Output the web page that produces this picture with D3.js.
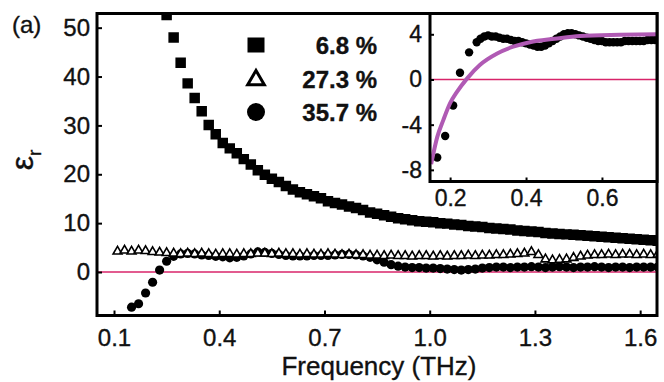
<!DOCTYPE html>
<html>
<head>
<meta charset="utf-8">
<script src="https://cdn.jsdelivr.net/npm/d3@7"></script>
<style>
  body { margin: 0; background: #fff; }
  svg text { font-family: "Liberation Sans", Arial, sans-serif; fill: #111; stroke: #111; stroke-width: 0.35px; }
</style>
</head>
<body>
<svg id="chart" width="664" height="382"></svg>
<script>
// main panel (THz / eps_r)
const freq = [0.11,0.13,0.15,0.17,0.19,0.21,0.23,0.25,0.27,0.29,0.31,0.33,0.35,0.37,0.39,0.41,0.43,0.45,0.47,0.49,
  0.51,0.53,0.55,0.57,0.59,0.61,0.63,0.65,0.67,0.69,0.71,0.73,0.75,0.77,0.79,0.81,0.83,0.85,0.87,0.89,
  0.91,0.93,0.95,0.97,0.99,1.01,1.03,1.05,1.07,1.09,1.11,1.13,1.15,1.17,1.19,1.21,1.23,1.25,1.27,1.29,
  1.31,1.33,1.35,1.37,1.39,1.41,1.43,1.45,1.47,1.49,1.51,1.53,1.55,1.57,1.59,1.61,1.63,1.65];
const eps68 = [null,null,null,null,null,null,null,
  52.6,48.0,42.8,38.6,35.6,32.9,30.1,28.2,26.4,25.3,24.3,23.1,22.0,20.8,19.9,19.1,18.4,17.6,16.9,16.3,
  15.9,15.5,15.1,14.5,14.1,13.8,13.4,13.1,12.7,12.2,11.9,11.6,11.3,11.0,10.8,10.6,10.4,10.3,10.2,10.0,
  9.9,9.7,9.6,9.4,9.3,9.2,9.0,8.9,8.8,8.7,8.5,8.4,8.3,8.2,8.0,7.9,7.8,7.7,7.6,7.5,
  7.4,7.3,7.2,7.1,7.0,6.9,6.8,6.7,6.6,6.5,6.4];
const eps273 = [4.2,4.4,4.2,4.4,4.3,4.1,4.0,3.9,
  3.8,3.7,3.8,3.7,3.8,3.7,3.6,3.7,3.7,3.6,3.7,
  3.7,3.8,3.8,3.7,3.8,3.7,3.7,3.6,3.7,3.6,3.6,3.7,3.6,3.5,3.6,3.5,3.5,3.4,
  3.4,3.3,3.4,3.3,3.3,3.2,3.3,3.3,3.2,3.3,3.2,3.3,3.3,3.4,3.3,3.4,3.4,3.5,3.5,3.6,3.7,3.8,
  4.1,3.5,2.6,2.4,2.5,2.6,2.9,3.2,3.4,3.5,3.5,3.6,3.5,3.6,3.6,3.5,3.6,3.5,3.6];
const eps357 = [null,null,
  -7.2,-6.5,-4.3,-2.1,0.4,2.2,
  3.2,3.7,3.8,3.7,3.5,3.4,3.2,3.1,2.9,3.0,3.3,3.7,
  4.1,4.0,3.8,3.6,3.4,3.3,3.3,3.3,3.4,3.4,3.4,3.5,3.6,3.6,3.5,3.3,3.0,
  2.5,2.0,1.5,1.2,1.0,0.9,0.9,0.8,0.8,0.7,0.6,0.5,0.4,0.5,0.6,0.8,0.9,1.0,1.0,0.9,1.0,
  1.0,1.1,1.0,0.9,1.0,1.1,1.0,0.9,1.0,1.0,1.1,1.0,0.9,1.0,1.0,0.9,1.0,1.0,1.0,1.0];
const xTicks = [0.1,0.4,0.7,1.0,1.3,1.6];
const yTicks = [0,10,20,30,40,50];
const legendLabels = ["6.8 %","27.3 %","35.7 %"];

// inset: 35.7 % sample and its fit
const insetFreq = [0.166,0.187,0.208,0.226,0.25,
  0.27,0.28,0.29,0.30,0.31,0.32,0.33,0.34,0.35,0.36,0.37,0.38,0.39,0.40,0.41,0.42,0.43,0.44,0.45,0.46,
  0.47,0.48,0.49,0.50,0.51,0.52,0.53,0.54,0.55,0.56,0.57,0.58,0.59,0.60,0.61,0.62,0.63,0.64,0.65,0.66,
  0.67,0.68,0.69,0.70,0.71,0.72,0.73,0.74];
const insetEps = [-6.9,-5.0,-2.3,0.6,2.4,
  3.3,3.6,3.8,3.9,3.8,3.8,3.7,3.6,3.6,3.5,3.4,3.4,3.3,3.2,3.1,3.0,2.9,2.9,3.0,3.2,
  3.4,3.6,3.8,4.0,4.1,4.1,4.0,3.9,3.8,3.7,3.6,3.5,3.4,3.4,3.3,3.3,3.3,3.3,3.3,3.4,
  3.4,3.4,3.4,3.4,3.4,3.5,3.5,3.5];
const fitFreq = [0.15,0.166,0.182,0.2,0.218,0.245,0.279,0.324,0.366,0.41,0.476,0.542,0.647,0.745];
const fitEps = [-7.5,-5.1,-3.6,-2.1,-1.1,0.1,1.3,2.3,2.9,3.3,3.6,3.85,3.95,4.0];
const insetXTicks = [0.2,0.4,0.6];
const insetYTicks = [-8,-4,0,4];

const svg = d3.select("#chart");
const L = 97, R = 657, T = 13.5, B = 315.5;
const x = d3.scaleLinear().domain([0.0515, 1.648]).range([L, R]);
const y = d3.scaleLinear().domain([-8.9, 52.9]).range([B, T]);

svg.append("defs").append("clipPath").attr("id", "clipMain")
  .append("rect").attr("x", L).attr("y", T).attr("width", R - L).attr("height", B - T);

// zero line
svg.append("line").attr("x1", L).attr("x2", R).attr("y1", y(0)).attr("y2", y(0))
  .attr("stroke", "#d8246a").attr("stroke-width", 1.5);

const plot = svg.append("g").attr("clip-path", "url(#clipMain)");

plot.append("g").selectAll("circle")
  .data(d3.zip(freq, eps357).filter(d => d[1] != null))
  .join("circle")
  .attr("cx", d => x(d[0])).attr("cy", d => y(d[1])).attr("r", 4.6).attr("fill", "#000");

const tri = d3.symbol().type(d3.symbolTriangle).size(34);
plot.append("g").selectAll("path")
  .data(d3.zip(freq, eps273))
  .join("path")
  .attr("d", tri)
  .attr("transform", d => `translate(${x(d[0])},${y(d[1])})`)
  .attr("fill", "#fff").attr("stroke", "#000").attr("stroke-width", 1.6);

const sq = d3.symbol().type(d3.symbolSquare).size(110);
plot.append("g").selectAll("path")
  .data(d3.zip(freq, eps68).filter(d => d[1] != null))
  .join("path")
  .attr("d", sq)
  .attr("transform", d => `translate(${x(d[0])},${y(d[1])})`)
  .attr("fill", "#000");

// main axes
const xAxis = svg.append("g").attr("transform", `translate(0,${B})`)
  .call(d3.axisBottom(x).tickValues(xTicks).tickFormat(d3.format(".1f"))
    .tickSizeInner(-5).tickSizeOuter(0).tickPadding(13));
const yAxis = svg.append("g").attr("transform", `translate(${L},0)`)
  .call(d3.axisLeft(y).tickValues(yTicks).tickFormat(d => String(d))
    .tickSizeInner(-5).tickSizeOuter(0).tickPadding(7));
[xAxis, yAxis].forEach(a => {
  a.select(".domain").remove();
  a.selectAll(".tick line").attr("stroke", "#000").attr("stroke-width", 2);
  a.selectAll(".tick text").attr("font-size", 24).attr("fill", "#111")
    .style("font-family", "'Liberation Sans', Arial, sans-serif");
});

svg.append("rect").attr("x", L).attr("y", T).attr("width", R - L).attr("height", B - T)
  .attr("fill", "none").attr("stroke", "#000").attr("stroke-width", 3);

// legend
const lg = svg.append("g");
const rowY = [45, 79, 112];
lg.append("rect").attr("x", 247.5).attr("y", rowY[0] - 7.5).attr("width", 17).attr("height", 15).attr("fill", "#000");
lg.append("path").attr("d", d3.symbol().type(d3.symbolTriangle).size(120))
  .attr("transform", `translate(256,${rowY[1] + 1})`)
  .attr("fill", "#fff").attr("stroke", "#000").attr("stroke-width", 3);
lg.append("circle").attr("cx", 256).attr("cy", rowY[2]).attr("r", 9).attr("fill", "#000");
lg.selectAll("text").data(legendLabels).join("text")
  .attr("x", 377).attr("y", (d, i) => rowY[i] + 9)
  .attr("text-anchor", "end").attr("font-size", 24).attr("font-weight", "bold")
  .text(d => d);

// labels
svg.append("text").attr("x", 379).attr("y", 375).attr("text-anchor", "middle")
  .attr("font-size", 26).text("Frequency (THz)");
const yl = svg.append("text").attr("transform", "translate(33,160) rotate(-90)")
  .attr("text-anchor", "middle").attr("font-size", 32);
yl.append("tspan").text("ε");
yl.append("tspan").attr("font-size", 19).attr("dy", 8).text("r");
svg.append("text").attr("x", 12).attr("y", 33).attr("font-size", 24).attr("fill", "#333")
  .attr("stroke", "#333").text("(a)");

// inset
const iL = 430, iR = 657, iT = 13.5, iB = 181.5;
const ix = d3.scaleLinear().domain([0.147, 0.745]).range([iL, iR]);
const iy = d3.scaleLinear().domain([-9.03, 5.84]).range([iB, iT]);
const inset = svg.append("g");
inset.append("rect").attr("x", iL).attr("y", iT).attr("width", iR - iL).attr("height", iB - iT).attr("fill", "#fff");
inset.append("defs").append("clipPath").attr("id", "clipInset")
  .append("rect").attr("x", iL).attr("y", iT).attr("width", iR - iL).attr("height", iB - iT);
inset.append("line").attr("x1", iL).attr("x2", iR).attr("y1", iy(0)).attr("y2", iy(0))
  .attr("stroke", "#d8246a").attr("stroke-width", 1.5);
const ip = inset.append("g").attr("clip-path", "url(#clipInset)");
ip.selectAll("circle").data(d3.zip(insetFreq, insetEps)).join("circle")
  .attr("cx", d => ix(d[0])).attr("cy", d => iy(d[1])).attr("r", 4.2).attr("fill", "#000");
ip.append("path").datum(d3.zip(fitFreq, fitEps))
  .attr("d", d3.line().x(d => ix(d[0])).y(d => iy(d[1])).curve(d3.curveMonotoneX))
  .attr("fill", "none").attr("stroke", "#b05ab4").attr("stroke-width", 4);

const ixAxis = inset.append("g").attr("transform", `translate(0,${iB})`)
  .call(d3.axisBottom(ix).tickValues(insetXTicks).tickFormat(d3.format(".1f"))
    .tickSizeInner(-4).tickSizeOuter(0).tickPadding(8));
const iyAxis = inset.append("g").attr("transform", `translate(${iL},0)`)
  .call(d3.axisLeft(iy).tickValues(insetYTicks).tickFormat(d => String(d))
    .tickSizeInner(-4).tickSizeOuter(0).tickPadding(8));
[ixAxis, iyAxis].forEach(a => {
  a.select(".domain").remove();
  a.selectAll(".tick line").attr("stroke", "#000").attr("stroke-width", 2);
  a.selectAll(".tick text").attr("font-size", 23).attr("fill", "#111")
    .style("font-family", "'Liberation Sans', Arial, sans-serif");
});
inset.append("rect").attr("x", iL).attr("y", iT).attr("width", iR - iL).attr("height", iB - iT)
  .attr("fill", "none").attr("stroke", "#000").attr("stroke-width", 3);
</script>
</body>
</html>
